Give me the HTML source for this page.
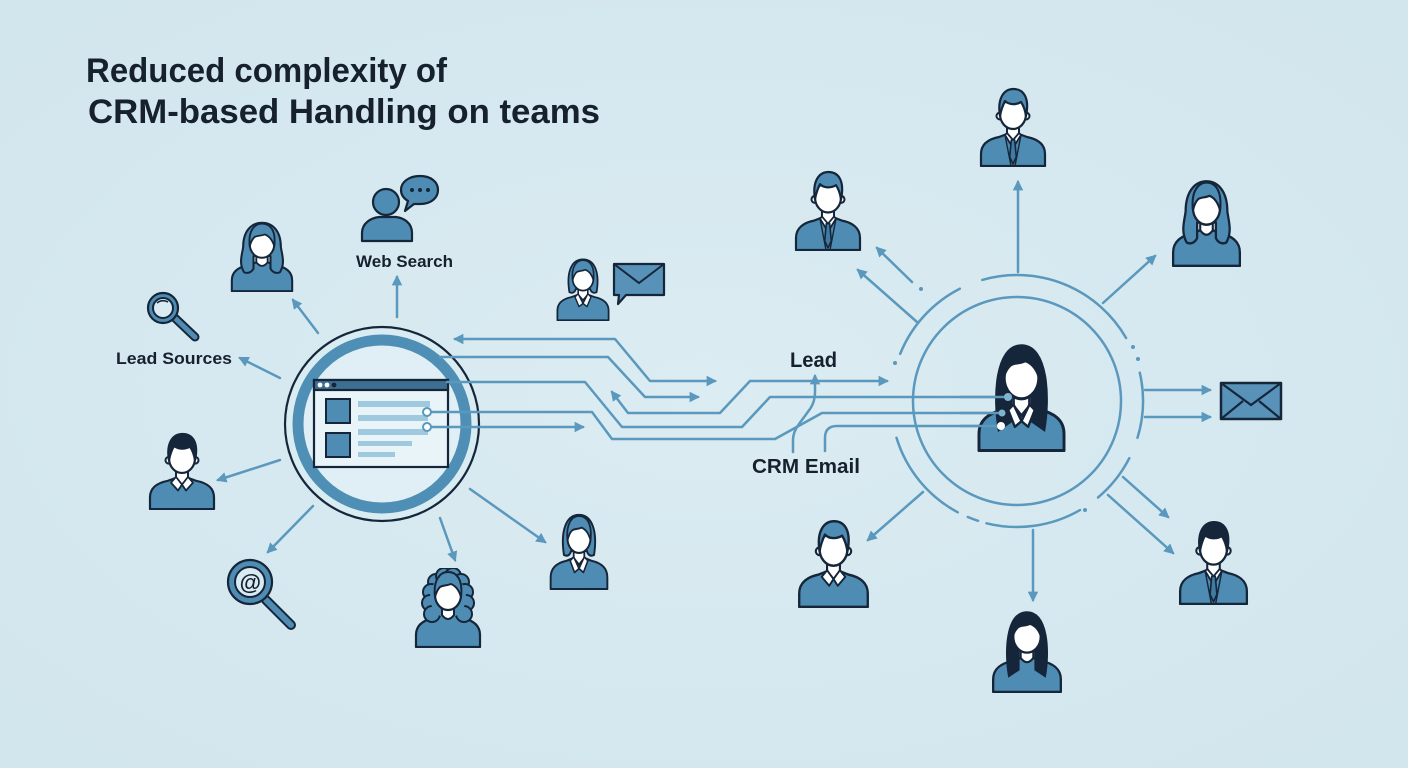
<!DOCTYPE html>
<html>
<head>
<meta charset="utf-8">
<style>
html,body{margin:0;padding:0;}
body{width:1408px;height:768px;overflow:hidden;background:#d6e9f0;}
svg{display:block;}
text{font-family:"Liberation Sans",sans-serif;fill:#17212e;font-weight:bold;}
</style>
</head>
<body>
<svg width="1408" height="768" viewBox="0 0 1408 768" xmlns="http://www.w3.org/2000/svg">
<defs>
  <radialGradient id="bg" cx="0.5" cy="0.5" r="0.75">
    <stop offset="0" stop-color="#dbecf2"/>
    <stop offset="1" stop-color="#d1e5ed"/>
  </radialGradient>
  <marker id="ah" viewBox="0 0 10 10" refX="8" refY="5" markerWidth="4.2" markerHeight="4.2" orient="auto-start-reverse" markerUnits="strokeWidth">
    <path d="M0,0 L10,5 L0,10 Z" fill="#5a98bd"/>
  </marker>

  <path id="body" d="M3,79 L3,67 C3,57 11,52 21,50 L29,47 L41,47 L49,50 C59,52 67,57 67,67 L67,79 Z" fill="#4f8cb3" stroke="#16263a" stroke-width="2.2" stroke-linejoin="round"/>
  <path id="neckV" d="M29,36 L29,47 L35,54 L41,47 L41,36 Z" fill="#fff" stroke="#16263a" stroke-width="2"/>
  <path id="neckU" d="M29,36 L29,47 Q35,55 41,47 L41,36 Z" fill="#fff" stroke="#16263a" stroke-width="2"/>
  <ellipse id="face" cx="35" cy="27" rx="13" ry="15" fill="#fff" stroke="#16263a" stroke-width="2.2"/>
  <g id="ears">
    <circle cx="22" cy="29" r="3.5" fill="#fff" stroke="#16263a" stroke-width="2"/>
    <circle cx="48" cy="29" r="3.5" fill="#fff" stroke="#16263a" stroke-width="2"/>
  </g>
  <path id="hairShortBlue" d="M22,29 C19,11 26,2 35.5,2 C45,2 52,10 48,29 C47,22 45,18 43,15 C38,18 31,18 27,14 C25,18 23,23 22,29 Z" fill="#4f8cb3" stroke="#16263a" stroke-width="2.2" stroke-linejoin="round"/>
  <path id="hairShortDark" d="M22,29 C19,11 26,2 35.5,2 C45,2 52,10 48,29 C47,22 45,18 43,15 C38,18 31,18 27,14 C25,18 23,23 22,29 Z" fill="#16263a" stroke="#16263a" stroke-width="2.2" stroke-linejoin="round"/>
  <path id="fringeBlue" d="M22,29 C20,12 27,4 35,4 C44,4 50,12 48,29 C46,22 43,18 38,16 C33,18 30,17 27,19 C24,22 23,25 22,29 Z" fill="#4f8cb3" stroke="#16263a" stroke-width="2" stroke-linejoin="round"/>
  <path id="fringeDark" d="M22,29 C20,12 27,4 35,4 C44,4 50,12 48,29 C46,22 43,18 38,16 C33,18 30,17 27,19 C24,22 23,25 22,29 Z" fill="#16263a"/>
  <g id="tie">
    <path d="M27,48 L35,61 L43,48 L41,46 L35,53 L29,46 Z" fill="#fff" stroke="#16263a" stroke-width="1.8" stroke-linejoin="round"/>
    <path d="M33.3,53 L36.7,53 L38.3,70 L35,77 L31.7,70 Z" fill="#3f7ba2" stroke="#16263a" stroke-width="1.6" stroke-linejoin="round"/>
    <path d="M27,48 L33,79 M43,48 L37,79" stroke="#16263a" stroke-width="1.4" fill="none"/>
  </g>
  <g id="polo">
    <path d="M29,46 L35,54 L31,60 L24,52 Z" fill="#fff" stroke="#16263a" stroke-width="1.8" stroke-linejoin="round"/>
    <path d="M41,46 L35,54 L39,60 L46,52 Z" fill="#fff" stroke="#16263a" stroke-width="1.8" stroke-linejoin="round"/>
  </g>
  <g id="lapel">
    <path d="M29,46 L35,58 L30,62 L25,50 Z" fill="#fff" stroke="#16263a" stroke-width="1.8" stroke-linejoin="round"/>
    <path d="M41,46 L35,58 L40,62 L45,50 Z" fill="#fff" stroke="#16263a" stroke-width="1.8" stroke-linejoin="round"/>
  </g>

  <symbol id="manTieBlue" viewBox="0 0 70 80" preserveAspectRatio="none">
    <use href="#body"/><use href="#neckV"/><use href="#tie"/><use href="#ears"/><use href="#face"/><use href="#hairShortBlue"/>
  </symbol>
  <symbol id="manTieDark" viewBox="0 0 70 80" preserveAspectRatio="none">
    <use href="#body"/><use href="#neckV"/><use href="#tie"/><use href="#ears"/><use href="#face"/><use href="#hairShortDark"/>
  </symbol>
  <symbol id="manPoloBlue" viewBox="0 0 70 80" preserveAspectRatio="none">
    <use href="#body"/><use href="#neckV"/><use href="#polo"/><use href="#ears"/><use href="#face"/><use href="#hairShortBlue"/>
  </symbol>
  <symbol id="manPoloDark" viewBox="0 0 70 80" preserveAspectRatio="none">
    <use href="#body"/><use href="#neckV"/><use href="#polo"/><use href="#ears"/><use href="#face"/><use href="#hairShortDark"/>
  </symbol>
  <symbol id="womanLong" viewBox="0 0 70 80" preserveAspectRatio="none">
    <use href="#body"/>
    <path d="M18,64 C14,42 15,4 35,4 C55,4 56,42 52,64 L43,58 L43,40 L27,40 L27,58 Z" fill="#16263a" stroke="#16263a" stroke-width="2"/>
    <use href="#neckU"/><use href="#face"/><use href="#fringeDark"/>
  </symbol>
  <symbol id="womanLongCollar" viewBox="0 0 70 80" preserveAspectRatio="none">
    <use href="#body"/>
    <path d="M18,64 C14,42 15,4 35,4 C55,4 56,42 52,64 L43,58 L43,40 L27,40 L27,58 Z" fill="#16263a" stroke="#16263a" stroke-width="2"/>
    <use href="#neckV"/><use href="#lapel"/><use href="#face"/><use href="#fringeDark"/>
  </symbol>
  <symbol id="womanShoulder" viewBox="0 0 70 80" preserveAspectRatio="none">
    <use href="#body"/>
    <path d="M16,58 C10,48 14,38 15,30 C15,12 24,3 35,3 C46,3 55,12 55,30 C56,38 60,48 54,58 C50,60 46,58 44,54 L44,40 L26,40 L26,54 C24,58 20,60 16,58 Z" fill="#4f8cb3" stroke="#16263a" stroke-width="2.2" stroke-linejoin="round"/>
    <use href="#neckU"/><use href="#face"/><use href="#fringeBlue"/>
  </symbol>
  <symbol id="womanBob" viewBox="0 0 70 80" preserveAspectRatio="none">
    <use href="#body"/>
    <path d="M18,44 C14,20 20,3 35,3 C50,3 56,20 52,44 C48,46 45,44 44,40 L26,40 C25,44 22,46 18,44 Z" fill="#4f8cb3" stroke="#16263a" stroke-width="2.2" stroke-linejoin="round"/>
    <use href="#neckV"/><use href="#lapel"/><use href="#face"/><use href="#fringeBlue"/>
  </symbol>
  <symbol id="womanCurly" viewBox="0 0 70 80" preserveAspectRatio="none">
    <use href="#body"/>
    <g fill="#4f8cb3" stroke="#16263a" stroke-width="2">
      <circle cx="23" cy="14" r="8"/><circle cx="31" cy="8" r="8"/><circle cx="40" cy="8" r="8"/><circle cx="48" cy="14" r="8"/>
      <circle cx="52" cy="24" r="8"/><circle cx="53" cy="35" r="8"/><circle cx="51" cy="46" r="8"/>
      <circle cx="18" cy="24" r="8"/><circle cx="17" cy="35" r="8"/><circle cx="19" cy="46" r="8"/>
    </g>
    <ellipse cx="35" cy="29" rx="18" ry="21" fill="#4f8cb3"/>
    <use href="#neckU"/><use href="#face"/><use href="#fringeBlue"/>
  </symbol>
</defs>

<rect width="1408" height="768" fill="url(#bg)"/>

<text x="86" y="82" font-size="34" textLength="361" lengthAdjust="spacingAndGlyphs">Reduced complexity of</text>
<text x="88" y="123" font-size="34" textLength="512" lengthAdjust="spacingAndGlyphs">CRM-based Handling on teams</text>

<circle cx="382" cy="424" r="97" fill="#d9ecf2" stroke="#16263a" stroke-width="2.2"/>
<circle cx="382" cy="424" r="84" fill="#dfeff5" stroke="#4f8fb6" stroke-width="11"/>

<rect x="314" y="380" width="134" height="87" fill="#e9f4f8" stroke="#16263a" stroke-width="2.2"/>
<rect x="314" y="380" width="134" height="10" fill="#3d6f91" stroke="#16263a" stroke-width="2.2"/>
<circle cx="320" cy="385" r="2.4" fill="#fff"/>
<circle cx="327" cy="385" r="2.4" fill="#fff"/>
<circle cx="334" cy="385" r="2.4" fill="#16263a"/>
<rect x="326" y="399" width="24" height="24" fill="#4f8cb3" stroke="#16263a" stroke-width="2"/>
<rect x="326" y="433" width="24" height="24" fill="#4f8cb3" stroke="#16263a" stroke-width="2"/>
<g fill="#9ec9de">
  <rect x="358" y="401" width="72" height="6"/>
  <rect x="358" y="415" width="70" height="6"/>
  <rect x="358" y="429" width="70" height="6"/>
  <rect x="358" y="441" width="54" height="5"/>
  <rect x="358" y="452" width="37" height="5"/>
</g>

<g fill="none" stroke="#5a98bd" stroke-width="2.5" stroke-linejoin="round" stroke-linecap="round">
  <path d="M455,339 L615,339 L650,381 L715,381" marker-start="url(#ah)" marker-end="url(#ah)"/>
  <path d="M440,357 L608,357 L645,397 L698,397" marker-end="url(#ah)"/>
  <path d="M447,382 L585,382 L622,427 L742,427 L770,397 L1007,397"/>
  <path d="M612,392 L628,413 L720,413 L750,381 L887,381" marker-start="url(#ah)" marker-end="url(#ah)"/>
  <path d="M427,412 L592,412 L612,439 L775,439 L822,413 L1002,413"/>
  <path d="M427,427 L583,427" marker-end="url(#ah)"/>
  <path d="M793,452 L793,440 Q793,432 799,424 L810,409 Q815,402 815,392 L815,376" marker-end="url(#ah)"/>
  <path d="M825,451 L825,438 Q825,426 837,426 L1001,426"/>

  <path d="M397,317 L397,277" marker-end="url(#ah)"/>
  <path d="M318,333 L293,300" marker-end="url(#ah)"/>
  <path d="M280,378 L240,358" marker-end="url(#ah)"/>
  <path d="M280,460 L218,480" marker-end="url(#ah)"/>
  <path d="M313,506 L268,552" marker-end="url(#ah)"/>
  <path d="M440,518 L455,560" marker-end="url(#ah)"/>
  <path d="M470,489 L545,542" marker-end="url(#ah)"/>

  <path d="M1018,272 L1018,182" marker-end="url(#ah)"/>
  <path d="M912,282 L877,248" marker-end="url(#ah)"/>
  <path d="M917,322 L858,270" marker-end="url(#ah)"/>
  <path d="M1103,303 L1155,256" marker-end="url(#ah)"/>
  <path d="M1145,390 L1210,390" marker-end="url(#ah)"/>
  <path d="M1145,417 L1210,417" marker-end="url(#ah)"/>
  <path d="M1123,477 L1168,517" marker-end="url(#ah)"/>
  <path d="M1108,495 L1173,553" marker-end="url(#ah)"/>
  <path d="M1033,530 L1033,600" marker-end="url(#ah)"/>
  <path d="M923,492 L868,540" marker-end="url(#ah)"/>
</g>

<circle cx="427" cy="412" r="4" fill="#fff" stroke="#5a98bd" stroke-width="2"/>
<circle cx="427" cy="427" r="4" fill="#fff" stroke="#5a98bd" stroke-width="2"/>

<circle cx="1017" cy="401" r="104" fill="none" stroke="#5a98bd" stroke-width="2.5"/>
<g fill="none" stroke="#5a98bd" stroke-width="2.5" stroke-linecap="round">
  <path d="M900.2,353.8 A126,126 0 0 1 959.8,288.7"/>
  <path d="M982.3,279.9 A126,126 0 0 1 1126.1,338"/>
  <path d="M1139.8,372.7 A126,126 0 0 1 1137.5,437.8"/>
  <path d="M1129.3,458.2 A126,126 0 0 1 1098,497.5"/>
  <path d="M1080,510.1 A126,126 0 0 1 986.5,523.3"/>
  <path d="M978.1,520.8 A126,126 0 0 1 967.8,517"/>
  <path d="M957.8,512.3 A126,126 0 0 1 896.5,437.8"/>
</g>
<g fill="#5a98bd">
  <circle cx="921" cy="289" r="2"/>
  <circle cx="895" cy="363" r="2"/>
  <circle cx="1133" cy="347" r="2"/>
  <circle cx="1138" cy="359" r="2"/>
  <circle cx="1085" cy="510" r="2"/>
</g>

<use href="#womanLongCollar" x="975" y="340" width="93" height="112"/>
<g fill="none" stroke="#5a98bd" stroke-width="2.5">
  <path d="M960,397 L1007,397"/>
  <path d="M960,413 L1002,413"/>
  <path d="M960,426 L1001,426"/>
</g>
<circle cx="1008" cy="397" r="4" fill="#7fb4d2"/>
<circle cx="1002" cy="413" r="3.5" fill="#7fb4d2"/>
<circle cx="1001" cy="426" r="4" fill="#fff"/>

<rect x="1221" y="383" width="60" height="36" fill="#5892b8" stroke="#16263a" stroke-width="2.5" stroke-linejoin="round"/>
<path d="M1221,383 L1251,405 L1281,383 M1221,419 L1243,401 M1281,419 L1259,401" fill="none" stroke="#16263a" stroke-width="2.2"/>

<use href="#manTieBlue" x="978" y="87" width="70" height="80"/>
<use href="#manTieBlue" x="793" y="170" width="70" height="81"/>
<use href="#womanShoulder" x="1170" y="178" width="73" height="89"/>
<use href="#manPoloBlue" x="796" y="519" width="75" height="89"/>
<use href="#womanLong" x="990" y="608" width="74" height="85"/>
<use href="#manTieDark" x="1177" y="520" width="73" height="85"/>

<use href="#womanShoulder" x="229" y="220" width="66" height="72"/>
<use href="#manPoloDark" x="147" y="432" width="70" height="78"/>
<use href="#womanCurly" x="413" y="568" width="70" height="80"/>
<use href="#womanBob" x="548" y="512" width="62" height="78"/>
<use href="#womanBob" x="555" y="257" width="56" height="64"/>

<path d="M614,264 L664,264 L664,295 L626,295 L618,304 L619,295 L614,295 Z" fill="#5892b8" stroke="#16263a" stroke-width="2.2" stroke-linejoin="round"/>
<path d="M614,264 L639,283 L664,264" fill="none" stroke="#16263a" stroke-width="2"/>

<path d="M362,241 L362,233 C362,223 371,218 379,217 L396,217 C404,218 412,223 412,233 L412,241 Z" fill="#4f8cb3" stroke="#16263a" stroke-width="2.2" stroke-linejoin="round"/>
<circle cx="386" cy="202" r="13" fill="#4f8cb3" stroke="#16263a" stroke-width="2.2"/>
<path d="M420,176 C431,176 438,182 438,190 C438,198 431,204 420,204 L414,204 L405,211 L408,201 C403,198 401,194 401,190 C401,182 409,176 420,176 Z" fill="#4f8cb3" stroke="#16263a" stroke-width="2.2" stroke-linejoin="round"/>
<circle cx="412" cy="190" r="2" fill="#16263a"/>
<circle cx="420" cy="190" r="2" fill="#16263a"/>
<circle cx="428" cy="190" r="2" fill="#16263a"/>

<path d="M175,318 L195,337" stroke="#16263a" stroke-width="9" stroke-linecap="round"/>
<path d="M175,318 L195,337" stroke="#4f8cb3" stroke-width="5" stroke-linecap="round"/>
<circle cx="163" cy="308" r="15" fill="#4f8cb3" stroke="#16263a" stroke-width="2.2"/>
<circle cx="163" cy="308" r="10" fill="#d8ebf2" stroke="#16263a" stroke-width="2"/>
<path d="M157,303 Q162,299 168,302" fill="none" stroke="#16263a" stroke-width="1.6"/>

<path d="M266,600 L291,625" stroke="#16263a" stroke-width="10" stroke-linecap="round"/>
<path d="M266,600 L291,625" stroke="#4f8cb3" stroke-width="6" stroke-linecap="round"/>
<circle cx="250" cy="582" r="22" fill="#4f8cb3" stroke="#16263a" stroke-width="2.2"/>
<circle cx="250" cy="582" r="15" fill="#d8ebf2" stroke="#16263a" stroke-width="2"/>
<text x="250" y="590" font-size="22" text-anchor="middle" font-weight="normal" style="font-style:italic">@</text>

<text x="116" y="364" font-size="17" textLength="116" lengthAdjust="spacingAndGlyphs">Lead Sources</text>
<text x="356" y="267" font-size="17" textLength="97" lengthAdjust="spacingAndGlyphs">Web Search</text>
<text x="790" y="367" font-size="21" textLength="47" lengthAdjust="spacingAndGlyphs">Lead</text>
<text x="752" y="473" font-size="20" textLength="108" lengthAdjust="spacingAndGlyphs">CRM Email</text>
</svg>
</body>
</html>
